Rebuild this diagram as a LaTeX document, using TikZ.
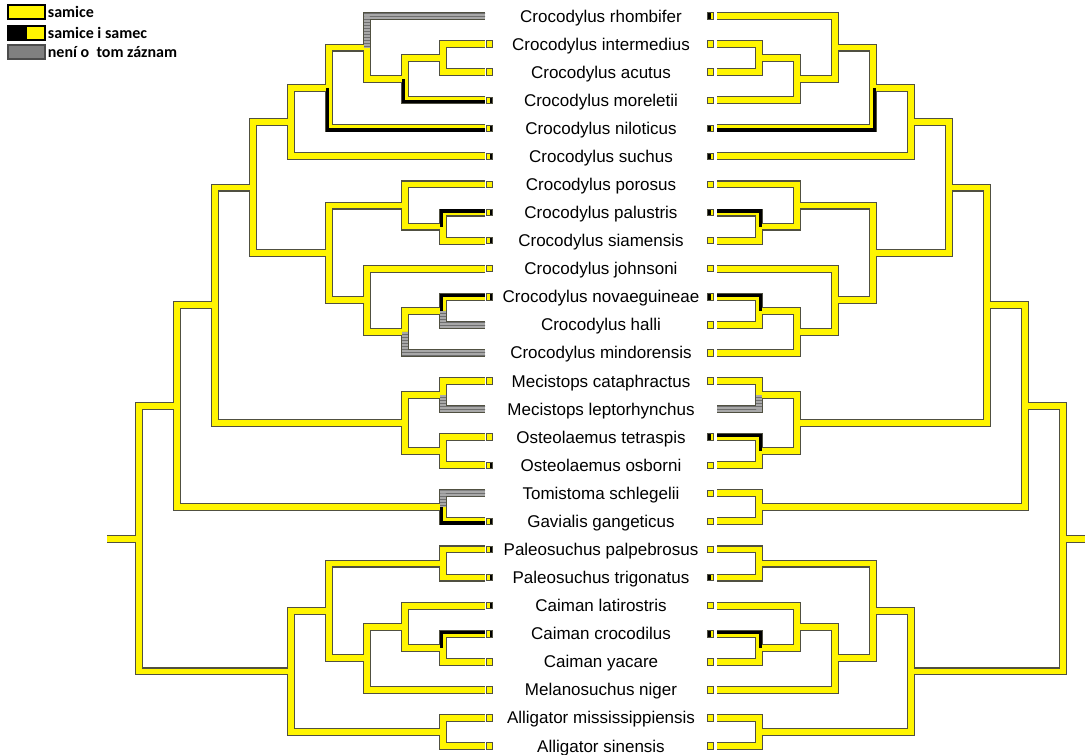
\documentclass[tikz,border=0pt]{standalone}
\usepackage{fontspec}
\setmainfont{Liberation Sans}
\newfontfamily\legendafont{Carlito}
\usetikzlibrary{calc, positioning, patterns}
\definecolor{zlutaSamice}{RGB}{255, 245, 0}
\definecolor{obrysVetve}{RGB}{80, 80, 65}
\definecolor{sedaZaznam}{RGB}{168, 168, 168}
\definecolor{sedaSrafa}{RGB}{110, 110, 110}
\definecolor{sedaLegenda}{RGB}{128, 128, 128}
\definecolor{cernaSamec}{RGB}{0, 0, 0}
% vetve stromu: rodic/potomek
\def\vetve{IA/int, IA/acu, IAM/IA, IAM/mor, R/rho, R/IAM, N/R, N/nil,
  S/N, S/suc, PS/pal, PS/sia, PPS/por, PPS/PS, NH/nov, NH/hal, NHM/NH,
  NHM/min, JNHM/joh, JNHM/NHM, IP/PPS, IP/JNHM, C6/S, C6/IP, MC/cat,
  MC/lep, OO/tet, OO/osb, MO/MC, MO/OO, C7/C6, C7/MO, TG/tom, TG/gav,
  C8/C7, C8/TG, PT/ppa, PT/ptr, CY/cro, CY/yac, LCY/lat, LCY/CY, CM/LCY,
  CM/nig, CC/PT, CC/CM, AA/mis, AA/sin, CA/CC, CA/AA, KO/C8, KO/CA,
  KO/kmen}

\begin{document}
\begin{tikzpicture}[x=1pt, y=-1pt,
  obrys/.style={draw=obrysVetve, line width=8pt},
  vypln/.style={draw=zlutaSamice, line width=5.8pt},
  seda/.style={draw=sedaZaznam, line width=5.8pt},
  srafa/.style={pattern=horizontal lines, pattern color=sedaSrafa},
  oba/.style={draw=cernaSamec, line width=3.2pt},
  ctverec/.style={rectangle, draw=obrysVetve, fill=zlutaSamice,
    line width=0.9pt, minimum width=6.5pt, minimum height=6.5pt,
    inner sep=0pt},
  pulL/.style={ctverec, path picture={\fill[cernaSamec]
    (path picture bounding box.north) rectangle
    (path picture bounding box.south east);}},
  pulP/.style={ctverec, path picture={\fill[cernaSamec]
    (path picture bounding box.north west) rectangle
    (path picture bounding box.south);}},
  druh/.style={font=\fontsize{17}{19}\selectfont, inner sep=0pt,
    anchor=base},
  legBox/.style={rectangle, draw=black, line width=1.4pt,
    minimum width=37pt, minimum height=14pt, inner sep=0pt},
  legText/.style={font=\legendafont\bfseries\fontsize{16}{18}\selectfont,
    inner sep=0pt},
]
\useasboundingbox (0,0) rectangle (1085,755);

% konce vetvi
\foreach \jm [count=\i] in {rho,int,acu,mor,nil,suc,por,pal,sia,joh,nov,
    hal,min,cat,lep,tet,osb,tom,gav,ppa,ptr,lat,cro,yac,nig,mis,sin} {
  \coordinate (L-\jm) at (485, {16+28.077*(\i-1)});
  \coordinate (P-\jm) at (717, {16+28.077*(\i-1)});
}

% vnitrni uzly, pravy strom je zrcadlo leveho
\foreach \s/\z/\k in {L/0/1, P/1202/-1} {
  \coordinate (\s-IA)   at ({\z+\k*443}, 58.12);
  \coordinate (\s-IAM)  at ({\z+\k*405}, 79.17);
  \coordinate (\s-R)    at ({\z+\k*367}, 47.59);
  \coordinate (\s-N)    at ({\z+\k*329}, 87.95);
  \coordinate (\s-S)    at ({\z+\k*291}, 122.17);
  \coordinate (\s-PS)   at ({\z+\k*443}, 226.58);
  \coordinate (\s-PPS)  at ({\z+\k*405}, 205.52);
  \coordinate (\s-NH)   at ({\z+\k*443}, 310.81);
  \coordinate (\s-NHM)  at ({\z+\k*405}, 331.87);
  \coordinate (\s-JNHM) at ({\z+\k*367}, 300.28);
  \coordinate (\s-IP)   at ({\z+\k*329}, 252.90);
  \coordinate (\s-C6)   at ({\z+\k*253}, 187.54);
  \coordinate (\s-MC)   at ({\z+\k*443}, 395.04);
  \coordinate (\s-OO)   at ({\z+\k*443}, 451.19);
  \coordinate (\s-MO)   at ({\z+\k*405}, 423.12);
  \coordinate (\s-C7)   at ({\z+\k*215}, 305.33);
  \coordinate (\s-TG)   at ({\z+\k*443}, 507.35);
  \coordinate (\s-C8)   at ({\z+\k*177}, 406.34);
  \coordinate (\s-PT)   at ({\z+\k*443}, 563.50);
  \coordinate (\s-CY)   at ({\z+\k*443}, 647.73);
  \coordinate (\s-LCY)  at ({\z+\k*405}, 626.68);
  \coordinate (\s-CM)   at ({\z+\k*367}, 658.27);
  \coordinate (\s-CC)   at ({\z+\k*329}, 610.89);
  \coordinate (\s-AA)   at ({\z+\k*443}, 731.96);
  \coordinate (\s-CA)   at ({\z+\k*291}, 671.43);
  \coordinate (\s-KO)   at ({\z+\k*139}, 538.89);
  \coordinate (\s-kmen) at ({\z+\k*107}, 538.89);
}

% obrys a zluta vypln
\foreach \s in {L,P}
  \foreach \a/\b in \vetve
    \draw[obrys] (\s-\a) |- (\s-\b);
\foreach \s in {L,P}
  \foreach \a/\b in \vetve
    \draw[vypln] (\s-\a) |- (\s-\b);

% neni o tom zaznam
\foreach \s/\a/\b in {L/R/rho, L/NH/hal, L/NHM/min, L/MC/lep, L/TG/tom,
    P/MC/lep} {
  \draw[seda] (\s-\a) |- (\s-\b);
  \fill[srafa] ($(\s-\a)+(-2.9,0)$) rectangle ($(\s-\a |- \s-\b)+(2.9,0)$)
    ($(\s-\a |- \s-\b)+(-2.9,-2.9)$) rectangle ($(\s-\b)+(0,2.9)$);
}

% samice i samec
\foreach \s/\dx/\a/\b/\dy in {L/-1.6/IAM/mor/-1.6, L/-1.6/N/nil/-1.6,
    L/-1.6/PS/pal/1.6, L/-1.6/NH/nov/1.6, L/-1.6/TG/gav/-1.6,
    L/-1.6/CY/cro/1.6, P/1.6/N/nil/-1.6, P/1.6/PS/pal/1.6,
    P/1.6/NH/nov/1.6, P/1.6/OO/tet/1.6, P/1.6/CY/cro/1.6}
  \draw[oba] ([xshift=\dx pt]\s-\a) |- ([yshift=\dy pt]\s-\b);

% ctverecky u druhu
\foreach \jm/\st in {int/ctverec, acu/ctverec, mor/pulL, nil/pulL,
    suc/pulL, por/ctverec, pal/pulL, sia/pulL, joh/ctverec, nov/pulL,
    cat/ctverec, tet/ctverec, osb/pulL, gav/pulL, ppa/pulL, ptr/pulL,
    lat/pulL, cro/pulL, yac/ctverec, nig/ctverec, mis/ctverec,
    sin/ctverec}
  \node[\st] (L-ct-\jm) at ([xshift=4.5pt]L-\jm) {};
\foreach \jm/\st in {rho/pulP, int/ctverec, acu/ctverec, mor/ctverec,
    nil/pulP, suc/pulP, por/ctverec, pal/pulP, sia/ctverec, joh/ctverec,
    nov/pulP, hal/ctverec, min/ctverec, cat/ctverec, tet/pulP,
    osb/ctverec, tom/ctverec, gav/ctverec, ppa/ctverec, ptr/pulP,
    lat/ctverec, cro/pulP, yac/ctverec, nig/ctverec, mis/ctverec,
    sin/ctverec}
  \node[\st] (P-ct-\jm) at ([xshift=-6.5pt]P-\jm) {};

% jmena druhu
\foreach \nazev [count=\i] in {Crocodylus rhombifer, Crocodylus intermedius,
    Crocodylus acutus, Crocodylus moreletii, Crocodylus niloticus,
    Crocodylus suchus, Crocodylus porosus, Crocodylus palustris,
    Crocodylus siamensis, Crocodylus johnsoni, Crocodylus novaeguineae,
    Crocodylus halli, Crocodylus mindorensis, Mecistops cataphractus,
    Mecistops leptorhynchus, Osteolaemus tetraspis, Osteolaemus osborni,
    Tomistoma schlegelii, Gavialis gangeticus, Paleosuchus palpebrosus,
    Paleosuchus trigonatus, Caiman latirostris, Caiman crocodilus,
    Caiman yacare, Melanosuchus niger, Alligator mississippiensis,
    Alligator sinensis}
  \node[druh] (druh-\i) at (601, {22+28.077*(\i-1)}) {\nazev};

% legenda
\node[legBox, fill=zlutaSamice] (leg-samice) at (26.5, 12) {};
\node[legText, right=2pt of leg-samice] (leg-samice-t) {samice};
\node[legBox, fill=zlutaSamice, path picture={\fill[black]
  (path picture bounding box.north west) rectangle
  (path picture bounding box.south);}] (leg-oba) at (26.5, 33) {};
\node[legText, right=2pt of leg-oba] (leg-oba-t) {samice i samec};
\node[legBox, fill=sedaLegenda, draw=black!70] (leg-nic) at (26.5, 52) {};
\node[legText, right=2pt of leg-nic] (leg-nic-t) {není o~~tom záznam};
\end{tikzpicture}
\end{document}
